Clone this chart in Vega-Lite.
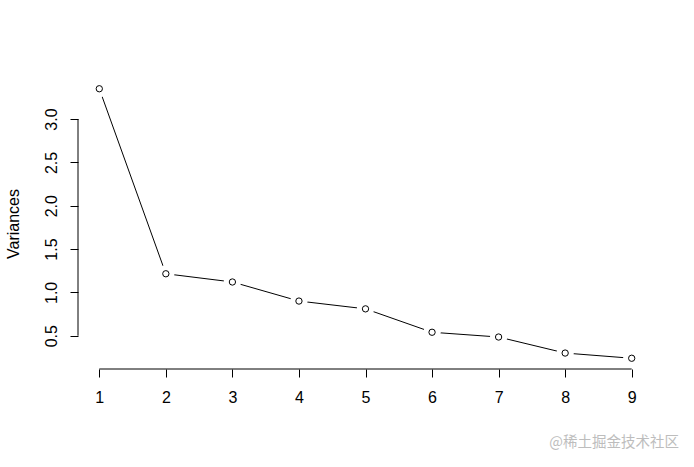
{
  "$schema": "https://vega.github.io/schema/vega-lite/v6.json",
  "autosize": "none",
  "width": 575,
  "height": 291,
  "padding": {"left": 78, "top": 78, "right": 41, "bottom": 98},
  "config": {
    "view": {"stroke": null},
    "font": "Liberation Sans",
    "axis": {"grid": false, "domain": false, "tickColor": "black", "labelColor": "black", "titleColor": "black", "tickSize": 8, "labelFontSize": 16, "titleFontSize": 16, "titleFontWeight": "normal"}
  },
  "title": {
    "text": "@稀土掘金技术社区",
    "orient": "bottom",
    "anchor": "end",
    "font": "Noto Sans CJK SC",
    "fontSize": 14.5,
    "fontWeight": "normal",
    "color": "#bdbdbd",
    "offset": 31,
    "dx": 26
  },
  "data": {
    "values": [
      {"pc": 1, "variance": 3.35},
      {"pc": 2, "variance": 1.215},
      {"pc": 3, "variance": 1.12},
      {"pc": 4, "variance": 0.9},
      {"pc": 5, "variance": 0.81},
      {"pc": 6, "variance": 0.54},
      {"pc": 7, "variance": 0.485},
      {"pc": 8, "variance": 0.3},
      {"pc": 9, "variance": 0.24}
    ]
  },
  "layer": [
    {
      "mark": {"type": "line", "color": "black", "strokeWidth": 1},
      "encoding": {
        "x": {"field": "pc", "type": "quantitative", "scale": {"domain": [0.68, 9.32], "nice": false, "zero": false},
          "axis": {"values": [1, 2, 3, 4, 5, 6, 7, 8, 9], "title": null, "labelPadding": 12, "format": "d"}},
        "y": {"field": "variance", "type": "quantitative", "scale": {"domain": [0.116, 3.474], "nice": false, "zero": false},
          "axis": {"values": [0.5, 1, 1.5, 2, 2.5, 3], "format": ".1f", "labelAngle": -90, "labelAlign": "center", "labelBaseline": "bottom", "labelPadding": 11, "title": "Variances", "titlePadding": 22}}
      }
    },
    {
      "mark": {"type": "point", "shape": "circle", "filled": true, "color": "white", "opacity": 1, "size": 300},
      "encoding": {
        "x": {"field": "pc", "type": "quantitative"},
        "y": {"field": "variance", "type": "quantitative"}
      }
    },
    {
      "mark": {"type": "point", "shape": "circle", "filled": false, "color": "black", "fill": "white", "fillOpacity": 1, "opacity": 1, "strokeWidth": 1, "size": 40},
      "encoding": {
        "x": {"field": "pc", "type": "quantitative"},
        "y": {"field": "variance", "type": "quantitative"}
      }
    },
    {
      "data": {"values": [{}]},
      "mark": {"type": "rule", "color": "black", "strokeWidth": 1},
      "encoding": {
        "x": {"datum": 1, "type": "quantitative"},
        "x2": {"datum": 9},
        "y": {"datum": 0.116, "type": "quantitative"}
      }
    },
    {
      "data": {"values": [{}]},
      "mark": {"type": "rule", "color": "black", "strokeWidth": 1},
      "encoding": {
        "x": {"datum": 0.68, "type": "quantitative"},
        "y": {"datum": 0.5, "type": "quantitative"},
        "y2": {"datum": 3.0}
      }
    }
  ]
}
